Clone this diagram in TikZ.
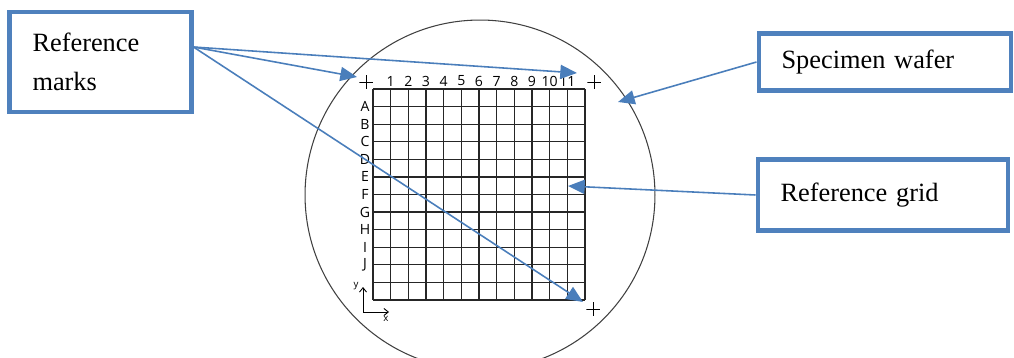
\documentclass[tikz,border=0pt]{standalone}
\usepackage{fontspec}
\setmainfont{Liberation Serif}
\newfontfamily\gridfont{Open Sans}
\usetikzlibrary{arrows.meta, positioning}
\definecolor{callblue}{HTML}{4F81BD}
\definecolor{arrblue}{HTML}{4A7EBB}

\begin{document}
\begin{tikzpicture}[x=0.02cm, y=-0.02cm,
  callout/.style={draw=callblue, line width=2.3pt, inner xsep=0.46cm,
                  align=left, font=\fontsize{15}{22}\selectfont},
  pointer/.style={draw=arrblue, line width=0.9pt,
                  -{Triangle[length=9.5pt,width=8pt]}},
  gridline/.style={line width=0.75pt, black!85},
  lbl/.style={font=\gridfont\fontsize{8}{9}\selectfont, inner sep=0pt},
  axlbl/.style={font=\gridfont\fontsize{5.5}{6}\selectfont, inner sep=0pt},
  refmark/.style={minimum size=0.27cm, inner sep=0pt,
    path picture={\draw[line width=0.45pt]
      (path picture bounding box.north) -- (path picture bounding box.south)
      (path picture bounding box.west) -- (path picture bounding box.east);}}]
  \clip (0,0) rectangle (1014,358);

  % wafer and grid
  \draw[line width=0.6pt, black!75] (480,195) circle [radius=3.5cm];
  \foreach \i in {0,...,12} {
    \draw[gridline] ({373+\i*17.667},89) -- ({373+\i*17.667},300);
    \draw[gridline] (373,{89+\i*17.583}) -- (585,{89+\i*17.583});
  }
  \foreach \n in {1,...,11}
    \node[lbl] (c\n) at ({373+\n*17.667},81) {\n};
  \foreach \r [count=\k] in {A,B,C,D,E,F,G,H,I,J}
    \node[lbl] (r\r) at (365,{89+\k*17.583}) {\r};

  \node[refmark] (pTL) at (366,82) {};
  \node[refmark] (pTR) at (594,82) {};
  \node[refmark] (pBR) at (593,309) {};

  % small axes
  \coordinate (o) at (363,312);
  \coordinate (ay) at (363,287);
  \coordinate (ax) at (389,312);
  \draw[line width=0.5pt, -{Straight Barb[length=2.5pt,width=4pt]}] (o) -- (ay);
  \draw[line width=0.5pt, -{Straight Barb[length=2.5pt,width=4pt]}] (o) -- (ax);
  \node[axlbl] (ylab) at (356,286) {y};
  \node[axlbl] (xlab) at (386,319) {x};

  % callouts
  \node[callout, text width=2.72cm, minimum height=2cm] (marks) at (100.5,62)
    {Reference\\marks};
  \node[callout, text width=4.13cm, minimum height=1.14cm] (wafer) at (884.75,62)
    {Specimen wafer};
  \node[callout, text width=4.09cm, minimum height=1.42cm] (grid) at (882.75,195)
    {Reference grid};

  \coordinate (mk) at ([yshift=0.3cm]marks.east);
  \coordinate (tTL) at (357,77);
  \coordinate (tTR) at (577,73);
  \coordinate (tBR) at (583,302);
  \coordinate (tW) at (618,102);
  \coordinate (tG) at (568,186);
  \foreach \t in {tTL, tTR, tBR}
    \draw[pointer] (mk) -- (\t);
  \draw[pointer] (wafer.west) -- (tW);
  \draw[pointer] (grid.west) -- (tG);
\end{tikzpicture}
\end{document}
